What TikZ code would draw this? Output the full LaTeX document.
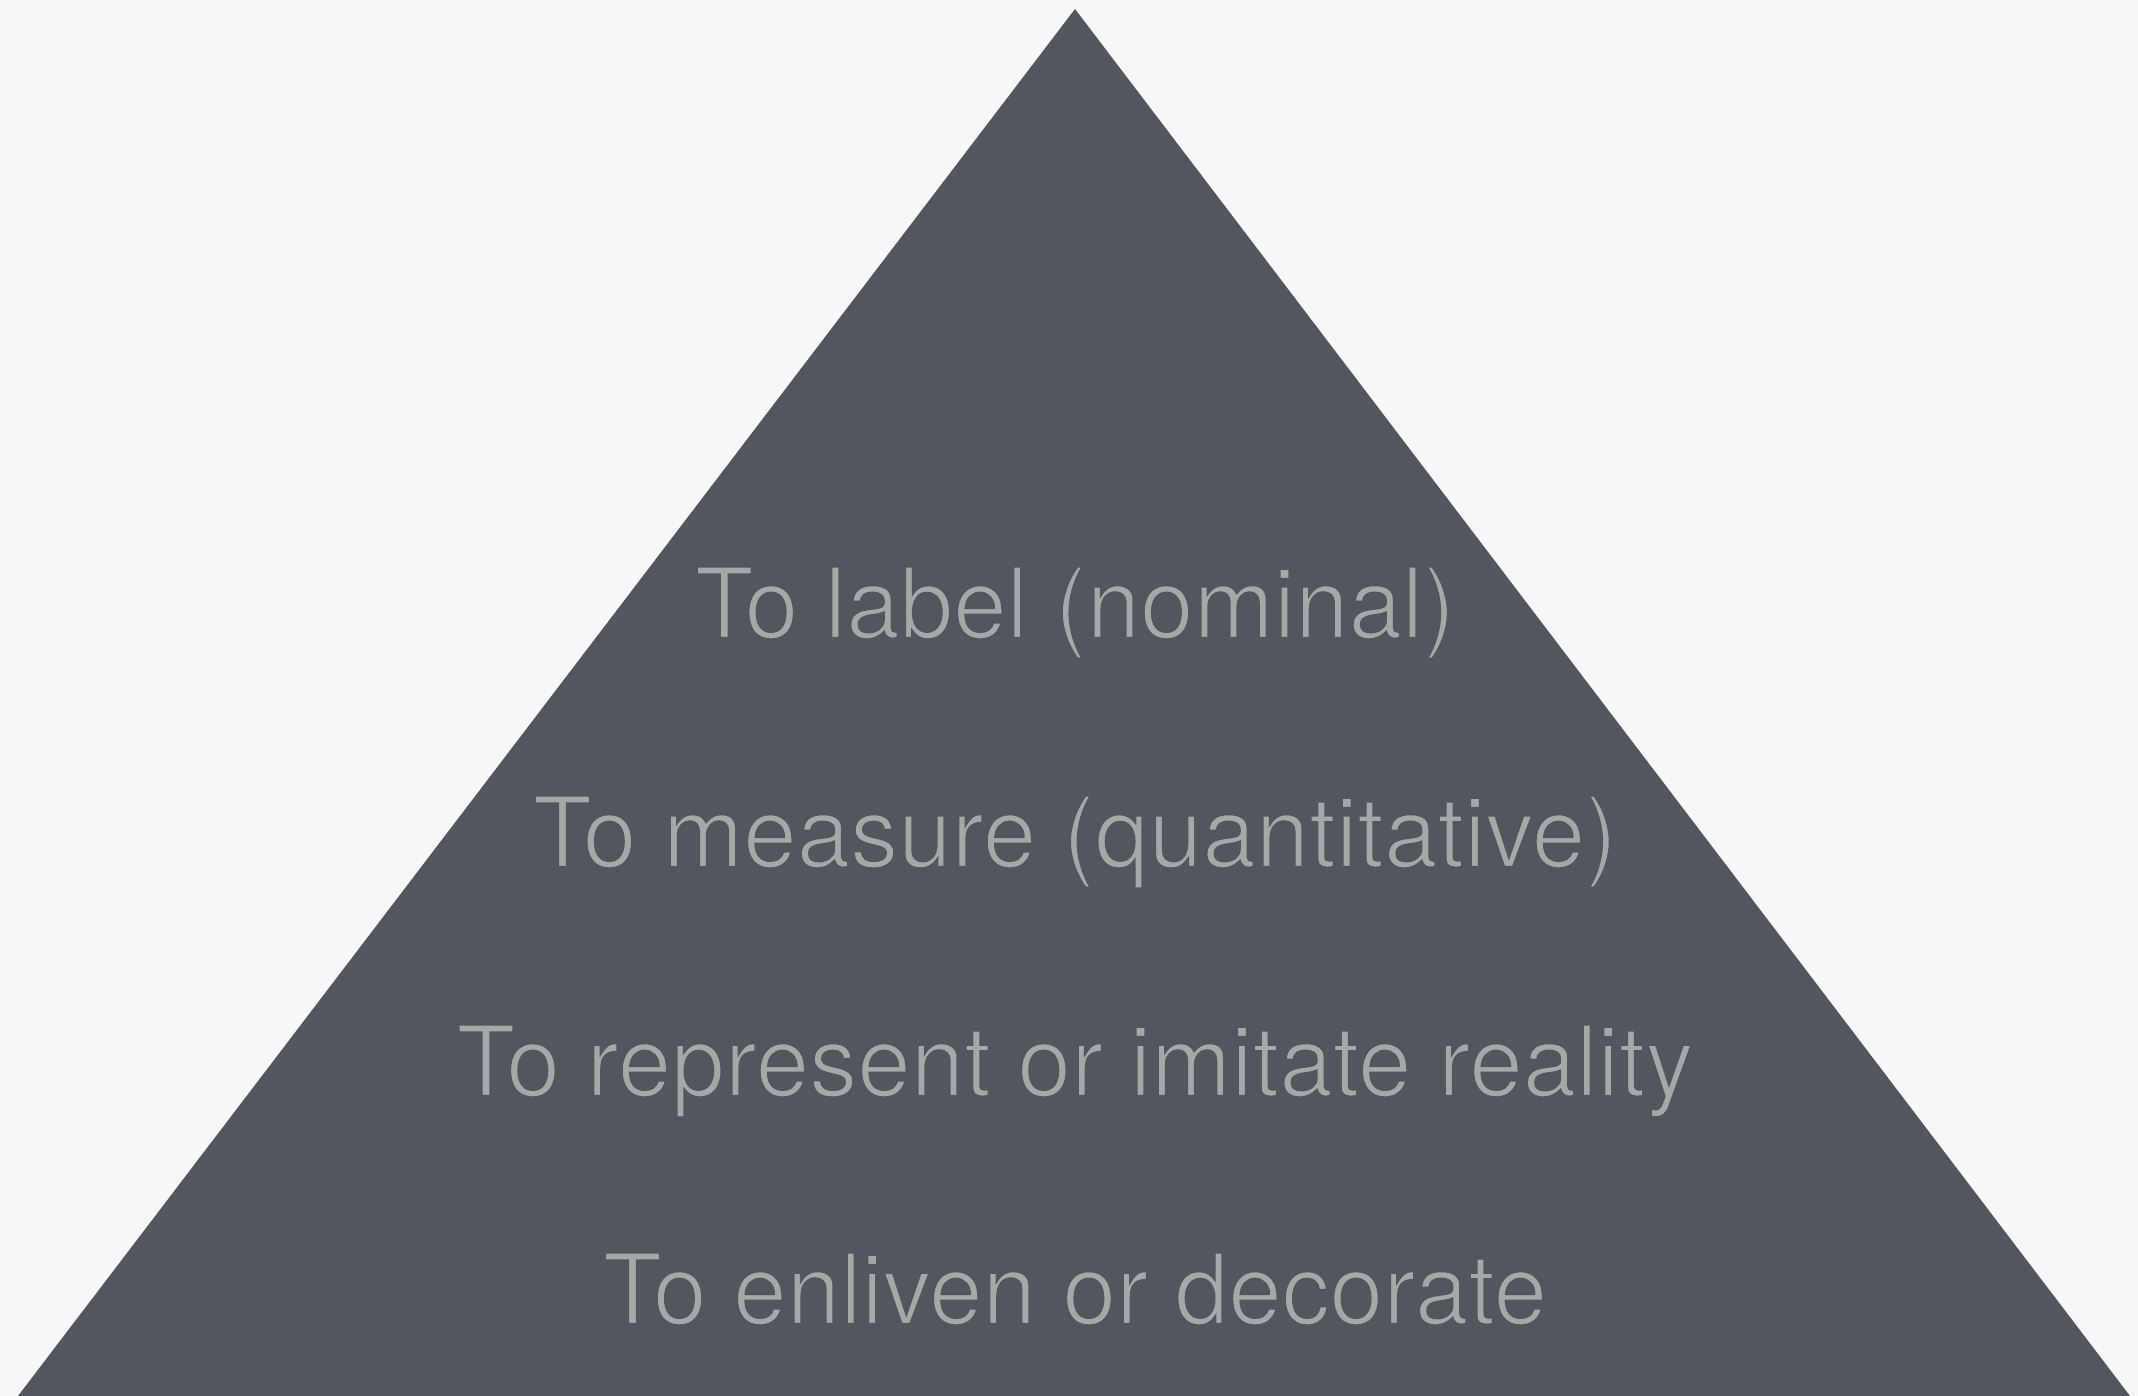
\documentclass[tikz,border=0pt]{standalone}
\usepackage{fontspec}
\setmainfont{TeX Gyre Heros}
\definecolor{bgc}{HTML}{F7F7F7}
\definecolor{tric}{HTML}{52575E}
\definecolor{txtc}{HTML}{A4A8A7}
\newcommand{\thintext}[1]{\special{pdf:literal direct 0.322 0.341 0.369 RG 2 Tr 1.1 w}#1\special{pdf:literal direct 0 Tr}}
\begin{document}
\begin{tikzpicture}[x=0.5pt,y=-0.5pt,
  lvl/.style={anchor=base,inner sep=0pt,text=txtc,font=\fontsize{49}{58}\selectfont}]
\fill[bgc] (0,0) rectangle (2138,1396);
\useasboundingbox (0,0) rectangle (2138,1396);
\coordinate (apex) at (1075,9);
\coordinate (bl) at (18,1396);
\coordinate (br) at (2130,1396);
\fill[tric] (apex) -- (br) -- (bl) -- cycle;
\node[lvl] (l1) at (1075,638) {\scalebox{0.981}[1]{\thintext{To label (nominal)}}};
\node[lvl] (l2) at (1075,867) {\scalebox{0.981}[1]{\thintext{To measure (quantitative)}}};
\node[lvl] (l3) at (1075,1096) {\scalebox{0.981}[1]{\thintext{To represent or imitate reality}}};
\node[lvl] (l4) at (1075,1324) {\scalebox{0.981}[1]{\thintext{To enliven or decorate}}};
\end{tikzpicture}
\end{document}
